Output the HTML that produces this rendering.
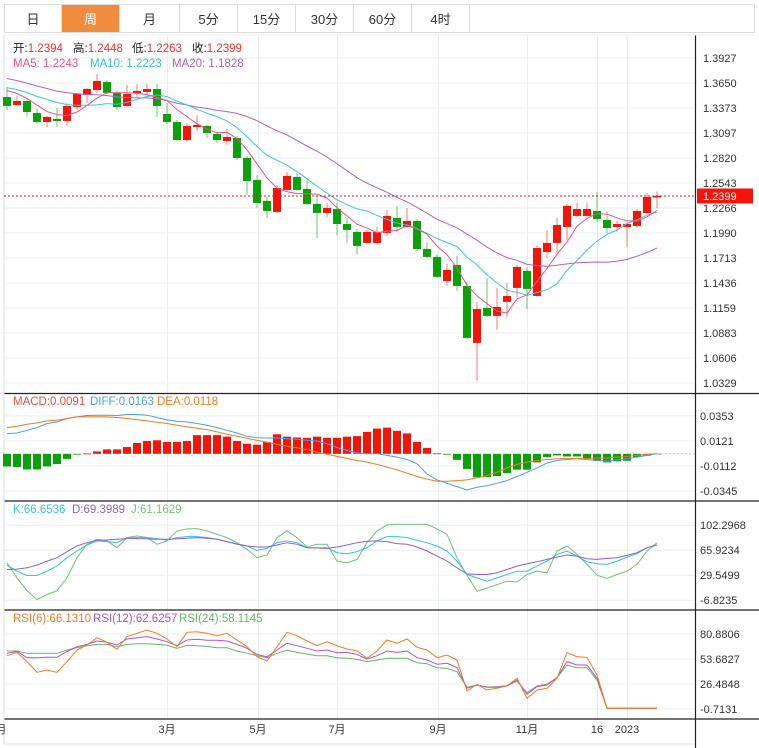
<!DOCTYPE html>
<html><head><meta charset="utf-8">
<style>
body{margin:0;background:#fff;font-family:"Liberation Sans","Noto Sans CJK SC",sans-serif;}
#wrap{position:relative;width:759px;height:748px;overflow:hidden;background:#fff;}
.tab{position:absolute;top:4px;height:29px;line-height:29px;text-align:center;font-size:13px;color:#333;border:1px solid #ddd;border-left:none;box-sizing:border-box;}
#tabs{position:absolute;left:4px;top:0;width:751px;height:34px;}
svg{position:absolute;left:0;top:0;}
</style></head><body>
<div id="wrap">
<div id="tabs">
 <div class="tab" style="left:0;width:58px;border-left:1px solid #ddd">日</div>
 <div class="tab" style="left:58px;width:58px;background:#f08c3e;color:#fff">周</div>
 <div class="tab" style="left:116px;width:60px">月</div>
 <div class="tab" style="left:176px;width:58px">5分</div>
 <div class="tab" style="left:234px;width:58px">15分</div>
 <div class="tab" style="left:292px;width:58px">30分</div>
 <div class="tab" style="left:350px;width:58px">60分</div>
 <div class="tab" style="left:408px;width:58px">4时</div>
 <div class="tab" style="left:466px;width:285px"></div>
</div>
<svg id="svg" width="759" height="748" xmlns="http://www.w3.org/2000/svg"></svg>
</div>
<script>
const opens=[1.3495,1.3407,1.3451,1.3318,1.3218,1.3252,1.3230,1.3385,1.3517,1.3573,1.3661,1.3540,1.3396,1.3540,1.3551,1.3584,1.3307,1.3218,1.3019,1.3163,1.3174,1.3086,1.3008,1.3041,1.2820,1.2576,1.2344,1.2222,1.2466,1.2610,1.2477,1.2311,1.2211,1.2255,1.2089,1.2001,1.1879,1.1879,1.1990,1.2155,1.2056,1.2122,1.1812,1.1724,1.1458,1.1635,1.1403,1.0772,1.1159,1.1071,1.1226,1.1381,1.1569,1.1292,1.1779,1.1879,1.2056,1.2178,1.2178,1.2233,1.2133,1.2056,1.2056,1.2067,1.2211,1.2394];
const closes=[1.3396,1.3451,1.3329,1.3218,1.3274,1.3230,1.3396,1.3528,1.3584,1.3672,1.3540,1.3385,1.3528,1.3562,1.3584,1.3396,1.3218,1.3019,1.3174,1.3185,1.3097,1.3019,1.3052,1.2820,1.2565,1.2322,1.2233,1.2488,1.2621,1.2466,1.2311,1.2211,1.2266,1.2089,1.2023,1.1846,1.2001,1.2001,1.2178,1.2056,1.2122,1.1812,1.1724,1.1503,1.1580,1.1403,1.0827,1.1148,1.1071,1.1170,1.1292,1.1613,1.1370,1.1823,1.1879,1.2078,1.2289,1.2255,1.2255,1.2144,1.2044,1.2089,1.2089,1.2233,1.2388,1.2399];
const highs=[1.3606,1.3506,1.3473,1.3362,1.3285,1.3373,1.3429,1.3540,1.3595,1.3750,1.3683,1.3562,1.3628,1.3639,1.3639,1.3639,1.3429,1.3241,1.3207,1.3296,1.3185,1.3108,1.3141,1.3063,1.2842,1.2632,1.2388,1.2521,1.2665,1.2654,1.2587,1.2388,1.2322,1.2322,1.2155,1.2034,1.2023,1.2056,1.2244,1.2289,1.2266,1.2144,1.1890,1.1757,1.1646,1.1735,1.1447,1.1226,1.1491,1.1381,1.1436,1.1635,1.1613,1.1845,1.2023,1.2155,1.2311,1.2322,1.2322,1.2443,1.2233,1.2122,1.2111,1.2255,1.2433,1.2448];
const lows=[1.3351,1.3396,1.3274,1.3196,1.3163,1.3163,1.3174,1.3351,1.3429,1.3540,1.3530,1.3351,1.3385,1.3495,1.3495,1.3274,1.3196,1.3008,1.2997,1.3119,1.3041,1.2986,1.2964,1.2798,1.2410,1.2266,1.2155,1.2211,1.2455,1.2455,1.2300,1.1934,1.2167,1.1967,1.1879,1.1757,1.1868,1.1868,1.1956,1.2001,1.2045,1.1790,1.1713,1.1492,1.1403,1.1348,1.0816,1.0351,1.1060,1.0916,1.1060,1.1281,1.1148,1.1281,1.1713,1.1768,1.1912,1.2167,1.2167,1.2111,1.1990,1.2001,1.1835,1.2045,1.2200,1.2263];
const prevCloses=[1.392,1.388,1.385,1.383,1.380,1.378,1.376,1.374,1.372,1.372,1.368,1.366,1.364,1.360,1.358,1.362,1.360,1.358,1.364];
const priceTicks=[1.3927,1.3650,1.3373,1.3097,1.2820,1.2543,1.2266,1.1990,1.1713,1.1436,1.1159,1.0883,1.0606,1.0329];
const lastPrice=1.2399;

const macdHist=[-0.0118,-0.0123,-0.0146,-0.0146,-0.0118,-0.0095,-0.0048,-0.0005,0.0003,0.0022,0.0041,0.0041,0.0063,0.0101,0.0119,0.0126,0.0110,0.0110,0.0119,0.0174,0.0174,0.0174,0.0160,0.0119,0.0094,0.0085,0.0110,0.0182,0.0160,0.0152,0.0149,0.0160,0.0149,0.0149,0.0160,0.0165,0.0204,0.0235,0.0244,0.0214,0.0190,0.0110,0.0055,0.0004,-0.0007,-0.0056,-0.0141,-0.0218,-0.0218,-0.0208,-0.0181,-0.0148,-0.0148,-0.0080,-0.0031,-0.0015,-0.0025,-0.0025,-0.0048,-0.0065,-0.0080,-0.0070,-0.0065,-0.0031,-0.0018,0.0001];
const diffLine=[0.0188,0.0194,0.0219,0.0244,0.0282,0.0297,0.0329,0.0344,0.0357,0.0360,0.0360,0.0357,0.0366,0.0366,0.0360,0.0338,0.0316,0.0304,0.0297,0.0282,0.0266,0.0244,0.0219,0.0194,0.0163,0.0150,0.0147,0.0147,0.0141,0.0135,0.0126,0.0119,0.0095,0.0057,0.0032,0.0007,0.0001,0.0001,-0.0015,-0.0031,-0.0053,-0.0093,-0.0188,-0.0243,-0.0275,-0.0306,-0.0337,-0.0312,-0.0296,-0.0275,-0.0250,-0.0212,-0.0172,-0.0131,-0.0087,-0.0062,-0.0053,-0.0046,-0.0053,-0.0062,-0.0068,-0.0056,-0.0046,-0.0031,-0.0015,0.0000];
const deaLine=[0.0244,0.0257,0.0276,0.0288,0.0307,0.0313,0.0329,0.0344,0.0344,0.0344,0.0344,0.0338,0.0329,0.0319,0.0307,0.0294,0.0282,0.0266,0.0251,0.0238,0.0226,0.0204,0.0182,0.0163,0.0144,0.0126,0.0107,0.0088,0.0070,0.0057,0.0038,0.0016,-0.0005,-0.0024,-0.0043,-0.0062,-0.0077,-0.0099,-0.0124,-0.0149,-0.0180,-0.0212,-0.0237,-0.0256,-0.0256,-0.0250,-0.0243,-0.0225,-0.0203,-0.0172,-0.0131,-0.0099,-0.0077,-0.0062,-0.0053,-0.0046,-0.0043,-0.0043,-0.0043,-0.0040,-0.0040,-0.0031,-0.0024,-0.0015,-0.0005,0.0000];
const macdTicks=[0.0353,0.0121,-0.0112,-0.0345];

const kLine=[44.2,35.4,29.1,29.1,35.4,42.8,55.0,64.7,73.5,79.4,78.4,76.9,84.2,84.2,84.2,82.8,80.3,84.2,85.7,85.7,84.2,81.8,78.4,75.5,72.0,65.7,68.6,76.9,79.4,76.9,69.6,69.6,69.6,62.3,60.8,63.7,69.6,79.4,85.7,85.7,84.2,80.3,76.9,72.0,64.7,50.1,30.6,25.7,20.8,25.7,30.6,35.4,35.4,42.8,50.1,59.8,64.7,57.4,49.1,46.2,45.2,50.1,55.9,60.8,69.6,73.5];
const dLine=[37.9,38.4,40.3,44.2,50.1,55.0,63.7,72.0,76.9,80.3,80.8,81.8,82.8,82.8,82.3,81.8,81.8,82.3,83.3,84.2,83.3,81.8,78.4,74.5,72.0,70.6,70.6,73.5,76.9,74.5,69.6,69.1,68.6,70.6,73.5,76.9,78.9,79.4,78.4,75.5,74.5,70.6,64.7,57.4,50.1,40.3,31.5,30.6,30.6,33.0,37.9,42.8,46.2,49.1,52.5,55.9,58.9,57.4,53.5,52.5,54.0,55.0,58.4,62.3,69.6,73.5];
const jLine=[47.6,25.7,7.1,-6.0,1.3,7.1,25.7,55.0,74.5,81.8,79.4,69.6,84.2,86.7,84.2,74.5,79.4,94.0,96.9,97.4,94.0,89.1,84.2,76.9,67.2,55.0,58.9,84.2,94.0,84.2,70.6,74.5,74.5,50.1,47.6,52.5,76.9,94.0,102.8,103.8,103.8,103.8,103.8,96.9,89.1,55.0,29.6,6.2,11.0,15.9,20.8,19.8,30.6,35.4,33.0,64.7,72.0,59.8,45.2,29.6,24.7,30.6,35.4,45.2,64.7,76.9];
const kdjTicks=[102.2968,65.9234,29.5499,-6.8235];

const rsi6=[57.3,60.9,50.8,39.2,41.7,39.2,50.8,63.5,68.9,76.9,71.8,64.2,78.0,81.6,85.2,81.6,75.4,67.1,82.7,83.4,81.6,79.0,81.6,74.4,67.1,56.2,51.5,67.1,82.7,79.0,73.3,68.2,72.5,68.0,64.6,62.4,54.4,62.4,74.4,70.8,75.4,66.4,63.5,55.1,58.0,52.6,18.9,26.2,20.0,21.8,24.6,32.7,10.9,20.0,21.8,32.7,60.6,56.2,55.5,36.3,0,0,0,0,0,0];
const rsi12=[59.9,61.8,55.1,55.1,55.5,55.5,61.8,67.1,69.6,73.3,71.8,68.9,75.4,76.9,78.0,75.4,72.5,68.2,74.4,75.1,74.0,74.0,73.3,69.6,65.3,58.7,56.2,63.5,70.8,68.2,65.3,62.4,63.5,60.5,60.9,58.7,53.6,57.3,62.4,60.9,62.4,55.1,52.6,47.9,49.0,44.2,21.8,25.4,22.9,22.9,24.3,30.8,15.3,23.6,25.4,33.3,50.8,47.2,47.2,32.7,0,0,0,0,0,0];
const rsi24=[62.4,62.4,59.9,59.9,59.9,59.9,63.5,66.0,68.2,69.6,69.6,67.1,69.6,70.3,70.3,69.6,68.6,65.3,68.6,68.2,67.4,66.0,66.0,62.4,59.9,57.3,55.1,59.9,63.1,60.9,59.1,57.3,57.3,55.1,54.4,53.2,50.8,52.6,54.4,54.4,54.4,49.7,48.6,44.2,43.5,39.9,22.9,25.4,23.2,23.6,24.6,29.5,17.0,24.3,26.2,33.3,47.2,44.2,44.2,30.8,0,0,0,0,0,0];
const rsiTicks=[80.8806,53.6827,26.4848,-0.7131];

const xLabels=['月','3月','5月','7月','9月','11月','16','2023'];
const xLabelIdx=[-0.6,16,25.1,33,43.1,52,59,62];

const NS='http://www.w3.org/2000/svg';
const svg=document.getElementById('svg');
function mk(tag,attrs,parent){const e=document.createElementNS(NS,tag);for(const k in attrs)e.setAttribute(k,attrs[k]);(parent||svg).appendChild(e);return e;}
const xOf=i=>7+i*10;
const yP=p=>58+(1.3927-p)*903;
const yM=v=>453.8-v/0.000932;
const yK=v=>525.2+(102.2968-v)*25/36.37;
const yR=v=>634+(80.8806-v)*25/27.2;
const PL=4,PR=695;

const grid=mk('g',{});


function hgrid(ys){ys.forEach(y=>{const l=mk('line',{x1:PL,x2:PR,y1:y,y2:y,stroke:'#e9eef2','stroke-width':1},grid);});}
hgrid(priceTicks.map(yP));hgrid(macdTicks.map(yM));hgrid(kdjTicks.map(yK));hgrid(rsiTicks.map(yR));
xLabelIdx.slice(1).forEach(i=>{const x=Math.round(xOf(i))+0.5;const l=mk('line',{x1:x,x2:x,y1:35,y2:719,stroke:'#e9eef2'},grid);});

const fr=mk('g',{stroke:'#222','stroke-width':1.2});


[393.5,501,610,719].forEach(y=>mk('line',{x1:PL,x2:759,y1:y,y2:y},fr));
mk('line',{x1:695.5,x2:695.5,y1:35,y2:748},fr);
mk('line',{x1:4,x2:4,y1:35,y2:744,stroke:'#ddd'},svg);
mk('line',{x1:4,x2:695,y1:744,y2:744,stroke:'#ddd'},svg);
mk('line',{x1:4,x2:755,y1:35,y2:35,stroke:'#eee'},svg);

function txt(s,x,y,fill,size,name,anchor){const t=mk('text',{x:x,y:y,fill:fill,'font-size':size||11,'font-family':'"Liberation Sans","Noto Sans CJK SC",sans-serif','text-anchor':anchor||'start'});t.textContent=s;return t;}

priceTicks.forEach(p=>txt(p.toFixed(4),703,yP(p)+4,'#333',11,'price-tick-label'));
macdTicks.forEach(p=>txt(p.toFixed(4),700,yM(p)+4,'#333',11,'macd-tick-label'));
kdjTicks.forEach(p=>txt(p.toFixed(4),700,yK(p)+4,'#333',11,'kdj-tick-label'));
rsiTicks.forEach(p=>txt(p.toFixed(4),700,yR(p)+4,'#333',11,'rsi-tick-label'));
xLabels.forEach((s,k)=>txt(s,xOf(xLabelIdx[k]),733,'#333',11,'x-axis-label','middle'));

const allC=prevCloses.concat(closes);
function ma(n){return closes.map((c,i)=>{let s=0;for(let j=0;j<n;j++)s+=allC[prevCloses.length+i-j];return s/n;});}
function line(vals,fy,color,name,w){const d=vals.map((v,i)=>(i?'L':'M')+xOf(i).toFixed(1)+' '+fy(v).toFixed(1)).join(' ');const p=mk('path',{d:d,fill:'none',stroke:color,'stroke-width':w||1});return p;}

const cg=mk('g',{});


closes.forEach((c,i)=>{
 const o=opens[i],up=c>=o,col=up?'#f2160a':'#0aa10a',wc=up?'#f37b74':'#6cc46c';
 const x=xOf(i);
 const w=mk('line',{x1:x,x2:x,y1:yP(highs[i]),y2:yP(lows[i]),stroke:wc,'stroke-width':1},cg);
 
 
 const t=Math.min(yP(o),yP(c)),h=Math.max(1.5,Math.abs(yP(o)-yP(c)));
 const r=mk('rect',{x:x-4,y:t,width:8,height:h,fill:col},cg);
 
 
});
line(ma(20),yP,'#b55fcc','ma20-line');
line(ma(10),yP,'#3cc6dc','ma10-line');
line(ma(5),yP,'#f0508a','ma5-line');

const lp=mk('line',{x1:PL,x2:PR,y1:yP(lastPrice),y2:yP(lastPrice),stroke:'#f01010','stroke-dasharray':'2,2'});


const lb=mk('rect',{x:697,y:yP(lastPrice)-7.5,width:56,height:15,fill:'#f2160a'});


txt(lastPrice.toFixed(4),703,yP(lastPrice)+4,'#fff',11,'last-price-label');

const mg=mk('g',{});


macdHist.forEach((v,i)=>{const y0=yM(0),y1=yM(v);const r=mk('rect',{x:xOf(i)-4,y:Math.min(y0,y1),width:8,height:Math.max(0.8,Math.abs(y1-y0)),fill:v>=0?'#f2160a':'#0aa10a'},mg);});
const zl=mk('line',{x1:xOf(65),x2:PR,y1:yM(0),y2:yM(0),stroke:'#9cd4ee','stroke-dasharray':'2,2'});


line(diffLine,yM,'#4a9ff0','diff-line');
line(deaLine,yM,'#f07a1e','dea-line');

line(jLine,yK,'#72c172','j-line');
line(kLine,yK,'#34c2e0','k-line');
line(dLine,yK,'#8e5ed6','d-line');

line(rsi24,yR,'#62b862','rsi24-line');
line(rsi12,yR,'#b452d2','rsi12-line');
line(rsi6,yR,'#f47a20','rsi6-line');

function legend(parts,y,name){const g=mk('g',{});parts.forEach(([x,segs])=>{const t=mk('text',{x:x,y:y,'font-size':11.5,'font-family':'"Liberation Sans","Noto Sans CJK SC",sans-serif'},g);segs.forEach(([s,c])=>{const sp=mk('tspan',{fill:c},t);sp.textContent=s;});});}
legend([[13,[['开:','#222'],['1.2394','#f0302a']]],[73,[['高:','#222'],['1.2448','#f0302a']]],[132,[['低:','#222'],['1.2263','#f0302a']]],[192,[['收:','#222'],['1.2399','#f0302a']]]],52,'ohlc-legend');
legend([[13,[['MA5: 1.2243','#ee4f88']]],[90,[['MA10: 1.2223','#33bfdb']]],[172,[['MA20: 1.1828','#b05ec8']]]],67,'ma-legend');
legend([[13,[['MACD:0.0091','#f04a40']]],[90,[['DIFF:0.0163','#4a9ff0']]],[157,[['DEA:0.0118','#f07a1e']]]],405,'macd-legend');
legend([[13,[['K:66.6536','#34c2e0']]],[72,[['D:69.3989','#8e5ed6']]],[131,[['J:61.1629','#72c172']]]],513,'kdj-legend');
legend([[13,[['RSI(6):66.1310','#f47a20']]],[93,[['RSI(12):62.6257','#b452d2']]],[179,[['RSI(24):58.1145','#62b862']]]],622,'rsi-legend');
</script>
</body></html>
